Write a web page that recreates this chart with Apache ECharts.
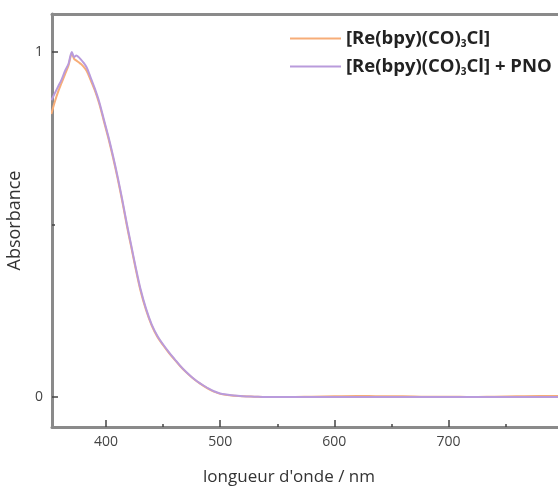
<!DOCTYPE html>
<html><head><meta charset="utf-8">
<script src="https://cdn.jsdelivr.net/npm/echarts@6/dist/echarts.min.js"></script>
<style>html,body{margin:0;padding:0;background:#fff}#c{width:558px;height:488px}</style>
</head><body><div id="c"></div>
<script>
var wavelengths = [352,355,358,361,364,367,370,372,374,376,378,380,383,386,390,394,398,402,406,410,414,418,422,426,430,435,440,445,450,455,460,465,470,475,480,485,490,495,500,510,520,530,540,560,580,600,620,640,660,680,700,720,740,760,780,796];
var absRe = [0.82,0.855,0.885,0.91,0.935,0.96,0.995,0.98,0.975,0.97,0.965,0.958,0.945,0.922,0.89,0.85,0.8,0.75,0.695,0.635,0.57,0.5,0.435,0.37,0.31,0.252,0.207,0.174,0.15,0.128,0.108,0.089,0.072,0.057,0.044,0.033,0.023,0.015,0.009,0.004,0.002,0.001,0.0,0.0,0.001,0.002,0.003,0.002,0.002,0.001,0.001,0.0,0.001,0.002,0.003,0.003];
var absRePNO = [0.86,0.88,0.9,0.92,0.945,0.965,1.0,0.985,0.99,0.985,0.978,0.97,0.955,0.93,0.895,0.855,0.805,0.755,0.7,0.64,0.575,0.505,0.44,0.375,0.315,0.256,0.21,0.177,0.152,0.13,0.11,0.09,0.073,0.058,0.045,0.034,0.024,0.016,0.01,0.005,0.002,0.001,0.0,0.0,0.0,0.0,0.0,0.0,0.0,0.0,0.0,0.0,0.0,0.0,0.0,0.0];
var seriesNames = ['[Re(bpy)(CO)3Cl]', '[Re(bpy)(CO)3Cl] + PNO'];
var xMajorTicks = [400,500,600,700];
var xMinorTicks = [450,550,650,750];
var yMajorTicks = [0,1];
var yMinorTicks = [0.5];

var chart = echarts.init(document.getElementById('c'));
var axisColor = '#8a8a8a';
var font = 'Open Sans';
function pairs(xs, ys){ return xs.map(function(x,i){return [x, ys[i]];}); }
var xMin = 352.6, xMax = 796, yMin = -0.087, yMax = 1.11;
chart.setOption({
  animation: false,
  backgroundColor: '#fff',
  grid: {left: 52, right: 0, top: 14, bottom: 61, outerBoundsMode: 'none', containLabel: false},
  legend: {
    orient: 'vertical', left: 285, top: 24, itemWidth: 51, itemHeight: 14, itemGap: 8,
    icon: 'path://M0,6 L48,6 L48,8 L0,8 Z',
    data: seriesNames,
    formatter: function(n){ return n.indexOf('PNO')>0 ? '{a|[Re(bpy)(CO)}{s|3}{a|Cl] + PNO}' : '{a|[Re(bpy)(CO)}{s|3}{a|Cl]}'; },
    textStyle: {
      rich: {
        a: {fontFamily: font, fontWeight: 'bold', fontSize: 18.5, color: '#222'},
        s: {fontFamily: font, fontWeight: 'bold', fontSize: 10, color: '#222', padding: [11,0,0,0]}
      }
    }
  },
  xAxis: [
    {type: 'value', min: xMin, max: xMax, position: 'bottom',
     name: "longueur d'onde / nm", nameLocation: 'middle', nameGap: 42,
     nameTextStyle: {fontFamily: font, fontSize: 17, color: '#333', padding: [0, 32, 0, 0]},
     axisLine: {onZero: false, lineStyle: {color: axisColor, width: 3}},
     axisTick: {inside: true, length: 7, customValues: xMajorTicks, lineStyle: {color: '#444', width: 1.5}},
     axisLabel: {customValues: xMajorTicks, fontFamily: font, fontSize: 14, color: '#444', margin: 8},
     splitLine: {show: false}},
    {type: 'value', min: xMin, max: xMax, position: 'bottom',
     axisLine: {show: false, onZero: false},
     axisTick: {inside: true, length: 3, customValues: xMinorTicks, lineStyle: {color: '#444', width: 1.5}},
     axisLabel: {show: false}, splitLine: {show: false}},
    {type: 'value', min: xMin, max: xMax, position: 'top',
     axisLine: {onZero: false, lineStyle: {color: axisColor, width: 3}},
     axisTick: {show: false}, axisLabel: {show: false}, splitLine: {show: false}}
  ],
  yAxis: [
    {type: 'value', min: yMin, max: yMax, position: 'left',
     name: 'Absorbance', nameLocation: 'middle', nameGap: 27,
     nameTextStyle: {fontFamily: font, fontSize: 18, color: '#333'},
     axisLine: {show: true, onZero: false, lineStyle: {color: axisColor, width: 3}},
     axisTick: {show: true, inside: true, length: 6, customValues: yMajorTicks, lineStyle: {color: '#444', width: 1.5}},
     axisLabel: {customValues: yMajorTicks, fontFamily: font, fontSize: 14, color: '#444', margin: 9},
     splitLine: {show: false}},
    {type: 'value', min: yMin, max: yMax, position: 'left',
     axisLine: {show: false, onZero: false},
     axisTick: {show: true, inside: true, length: 3, customValues: yMinorTicks, lineStyle: {color: '#444', width: 1.5}},
     axisLabel: {show: false}, splitLine: {show: false}}
  ],
  series: [
    {name: seriesNames[0], type: 'line', data: pairs(wavelengths, absRe), showSymbol: false, smooth: 0.3,
     lineStyle: {color: '#f7ad78', width: 2}, itemStyle: {color: '#f7ad78'}},
    {name: seriesNames[1], type: 'line', data: pairs(wavelengths, absRePNO), showSymbol: false, smooth: 0.3,
     lineStyle: {color: '#b99bdc', width: 2}, itemStyle: {color: '#b99bdc'}}
  ]
});
</script></body></html>
